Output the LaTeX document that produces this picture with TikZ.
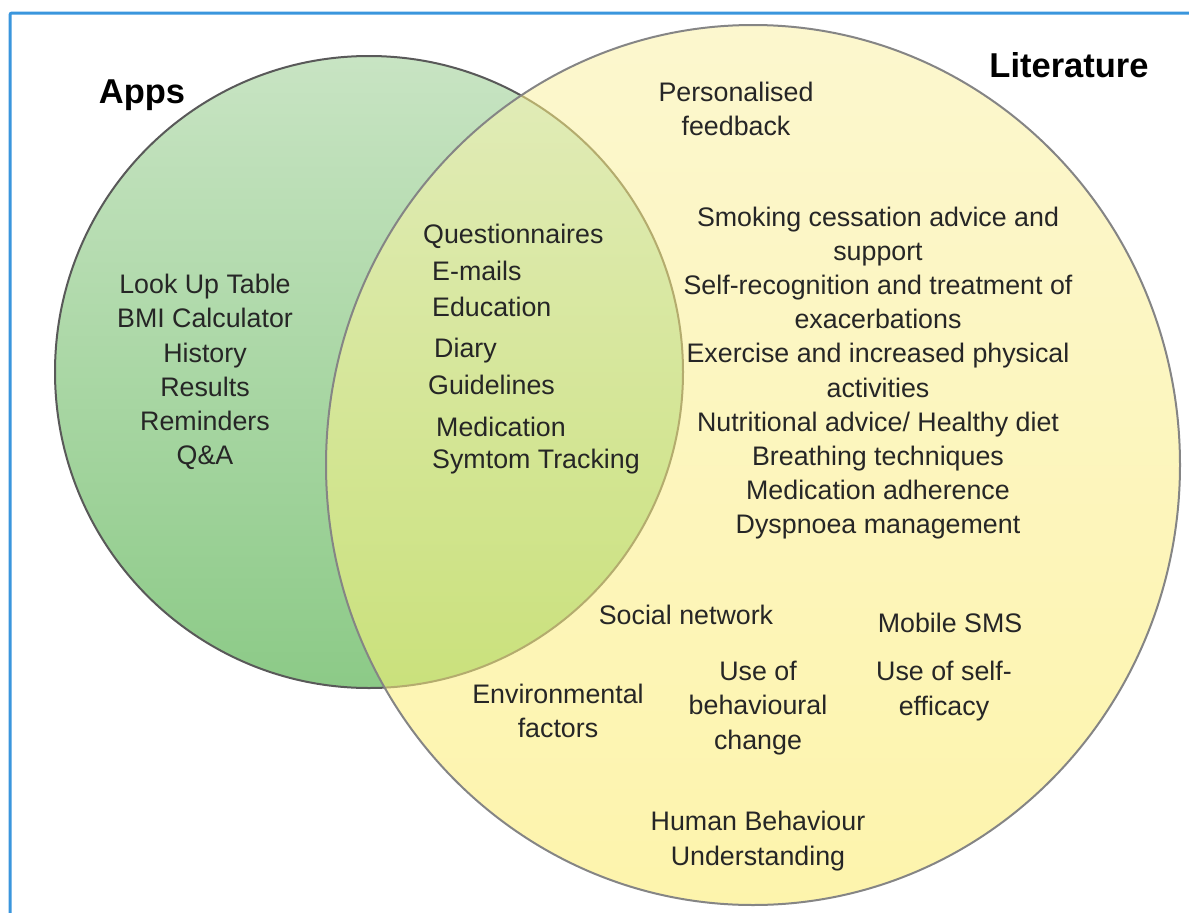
\documentclass[tikz,border=0pt]{standalone}
\usepackage{fontspec}
\setmainfont{Liberation Sans}
\begin{document}
\begin{tikzpicture}[x=1pt,y=-1pt,
  txt/.style={inner sep=0pt, text=black!85, font=\fontsize{26.8}{34.2}\selectfont},
  ctxt/.style={txt, align=center},
  ttl/.style={inner sep=0pt, text=black, font=\fontsize{34.5}{40}\selectfont\bfseries}]
\definecolor{gtop}{RGB}{200,228,195}
\definecolor{gbot}{RGB}{140,202,135}
\definecolor{ytop}{RGB}{252,247,206}
\definecolor{ybot}{RGB}{253,244,172}
\definecolor{itop}{RGB}{226,236,186}
\definecolor{ibot}{RGB}{202,225,124}
\definecolor{frameblue}{RGB}{58,150,221}
\useasboundingbox (0,0) rectangle (1189,913);
\fill[white] (0,0) rectangle (1189,913);
% green circle (Apps)
\shade[top color=gtop, bottom color=gbot] (369,372) ellipse [x radius=314pt, y radius=316pt];
\draw[line width=2pt, black!65] (369,372) ellipse [x radius=314pt, y radius=316pt];
% yellow circle (Literature)
\shade[top color=ytop, bottom color=ybot] (753,465) ellipse [x radius=427pt, y radius=440pt];
\begin{scope}
  \clip (753,465) ellipse [x radius=427pt, y radius=440pt];
  \shade[top color=itop, bottom color=ibot] (369,372) ellipse [x radius=314pt, y radius=316pt];
  \draw[line width=2pt, color={rgb,255:red,180;green,172;blue,110}] (369,372) ellipse [x radius=314pt, y radius=316pt];
\end{scope}
\draw[line width=2pt, black!48] (753,465) ellipse [x radius=427pt, y radius=440pt];
% titles
\node[ttl, anchor=base] (apps) at (142,103) {Apps};
\node[ttl, anchor=base] (lit) at (1069,77) {Literature};
% apps only
\node[ctxt] (appsonly) at (205,372) {Look Up Table\\BMI Calculator\\History\\Results\\Reminders\\Q\&A};
% intersection
\node[txt, anchor=mid west] (q1) at (423,241) {Questionnaires};
\node[txt, anchor=mid west] (q2) at (432,278) {E-mails};
\node[txt, anchor=mid west] (q3) at (432,314) {Education};
\node[txt, anchor=mid west] (q4) at (434,355) {Diary};
\node[txt, anchor=mid west] (q5) at (428,392) {Guidelines};
\node[txt, anchor=mid west] (q6) at (436,434) {Medication};
\node[txt, anchor=mid west] (q7) at (432,466) {Symtom Tracking};
% literature only
\node[ctxt] (pf) at (736,109) {Personalised\\feedback};
\node[ctxt] (lst) at (878,373) {Smoking cessation advice and\\support\\Self-recognition and treatment of\\exacerbations\\Exercise and increased physical\\activities\\Nutritional advice/ Healthy diet\\Breathing techniques\\Medication adherence\\Dyspnoea management};
\node[txt] (sn) at (686,615) {Social network};
\node[txt] (sms) at (950,623) {Mobile SMS};
\node[ctxt] (ubc) at (758,708) {Use of\\behavioural\\change};
\node[ctxt] (use) at (944,691) {Use of self-\\efficacy};
\node[ctxt] (env) at (558,711) {Environmental\\factors};
\node[ctxt] (hbu) at (758,841) {Human Behaviour\\Understanding};
% frame
\draw[frameblue, line width=3pt, rounded corners=2pt] (10,913) -- (10,13) -- (1189,13);
\end{tikzpicture}
\end{document}
